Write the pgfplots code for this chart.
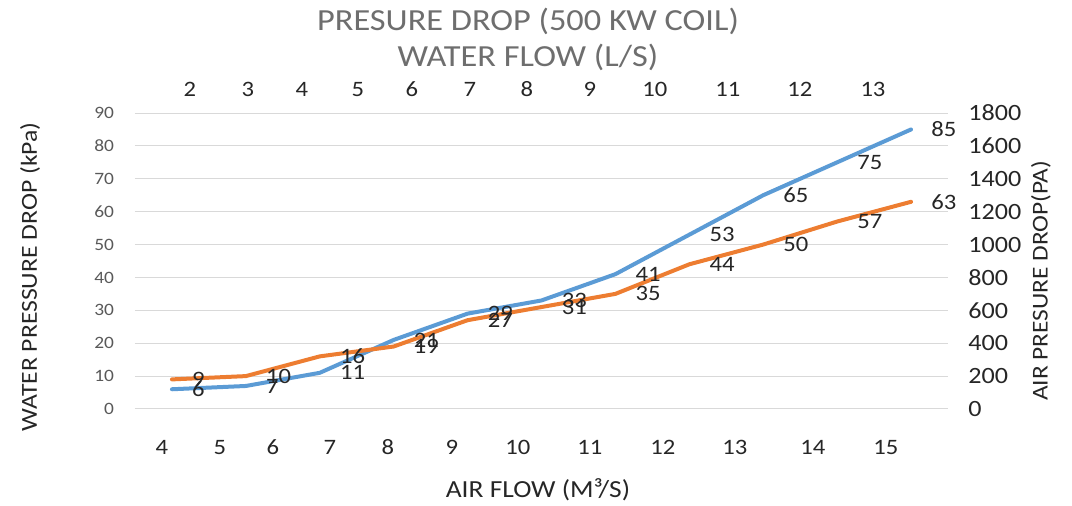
\documentclass[border=0pt]{standalone}
\usepackage{pgfplots}
\usepackage{pgfplotstable}
\pgfplotsset{compat=1.18}
\usepackage{fontspec}
\setmainfont{Carlito}[FakeStretch=1.12]
\definecolor{xlblue}{HTML}{5B9BD5}
\definecolor{xlorange}{HTML}{ED7D31}
\definecolor{gridgray}{HTML}{D9D9D9}
\definecolor{txtgray}{HTML}{595959}
\definecolor{titlegray}{HTML}{6E6E6E}
\definecolor{lblblack}{HTML}{262626}

\pgfplotstableread{
x y
0 6
1 7
2 11
3 21
4 29
5 33
6 41
7 53
8 65
9 75
10 85
}\waterdata
\pgfplotstableread{
x y
0 9
1 10
2 16
3 19
4 27
5 31
6 35
7 44
8 50
9 57
10 63
}\airdata

\begin{document}
\begin{tikzpicture}
\path[use as bounding box] (0,0) rectangle (804pt,379.5pt);
\begin{axis}[
  at={(101.25pt,72.75pt)}, anchor=south west,
  width=609.75pt, height=222pt, scale only axis,
  xmin=-0.5, xmax=10.5, ymin=0, ymax=90,
  clip=false,
  axis line style={draw=none},
  tick style={draw=none},
  xtick pos=bottom, ytick pos=left,
  ytick={0,10,...,90},
  ymajorgrids, major grid style={gridgray, line width=0.75pt},
  xtick={-0.135,0.649,1.367,2.138,2.923,3.788,4.681,5.656,6.643,7.617,8.673,9.660},
  xticklabels={4,5,6,7,8,9,10,11,12,13,14,15},
  /pgf/number format/assume math mode=true,
  xticklabel style={anchor=base, inner sep=0pt, yshift=-34.5pt, font=\fontsize{16.5}{18}\selectfont, text=lblblack},
  yticklabel style={anchor=east, inner sep=0pt, xshift=-15.5pt, font=\fontsize{13}{15}\selectfont, text=txtgray},
]
\addplot[xlblue, line width=3pt, line join=round, line cap=round] table[x=x,y=y] {\waterdata};
\addplot[xlorange, line width=3pt, line join=round, line cap=round] table[x=x,y=y] {\airdata};
\addplot[draw=none, nodes near coords, point meta=explicit,
  every node near coord/.style={anchor=west, inner sep=0pt, xshift=15pt, font=\fontsize{16.5}{18}\selectfont, text=lblblack}]
  table[x=x,y=y,meta=y] {\waterdata};
\addplot[draw=none, nodes near coords, point meta=explicit,
  every node near coord/.style={anchor=west, inner sep=0pt, xshift=15pt, font=\fontsize{16.5}{18}\selectfont, text=lblblack}]
  table[x=x,y=y,meta=y] {\airdata};
\end{axis}
\begin{axis}[
  at={(101.25pt,72.75pt)}, anchor=south west,
  width=609.75pt, height=222pt, scale only axis,
  xmin=-0.5, xmax=10.5, ymin=0, ymax=1800,
  axis line style={draw=none},
  tick style={draw=none},
  xtick pos=top, ytick pos=right,
  ytick={0,200,...,1800},
  xtick={0.244,1.028,1.759,2.517,3.247,4.032,4.803,5.656,6.535,7.523,8.497,9.485},
  xticklabels={2,3,4,5,6,7,8,9,10,11,12,13},
  /pgf/number format/assume math mode=true,
  /pgf/number format/1000 sep={},
  xticklabel style={anchor=base, inner sep=0pt, yshift=12pt, font=\fontsize{16.5}{18}\selectfont, text=lblblack},
  yticklabel style={anchor=west, inner sep=0pt, xshift=15pt, font=\fontsize{17.5}{19}\selectfont, text=lblblack},
]
\end{axis}
\begin{scope}[x=0.75pt, y=-0.75pt, shift={(0,379.5pt)}]
\node[anchor=base, inner sep=0pt, text=titlegray, font=\fontsize{23}{26}\selectfont] at (528,31) {PRESURE DROP (500 KW COIL)};
\node[anchor=base, inner sep=0pt, text=titlegray, font=\fontsize{23}{26}\selectfont] at (528,67) {WATER FLOW (L/S)};
\node[anchor=base, inner sep=0pt, text=lblblack, font=\fontsize{18.4}{20}\selectfont] at (538,498) {AIR FLOW (M³/S)};
\node[rotate=90, inner sep=0pt, text=lblblack, font=\fontsize{17.2}{19}\selectfont] at (30,277) {WATER PRESSURE DROP (kPa)};
\node[rotate=90, inner sep=0pt, text=lblblack, font=\fontsize{17}{19}\selectfont] at (1041,281) {AIR PRESURE DROP(PA)};
\end{scope}
\end{tikzpicture}
\end{document}
